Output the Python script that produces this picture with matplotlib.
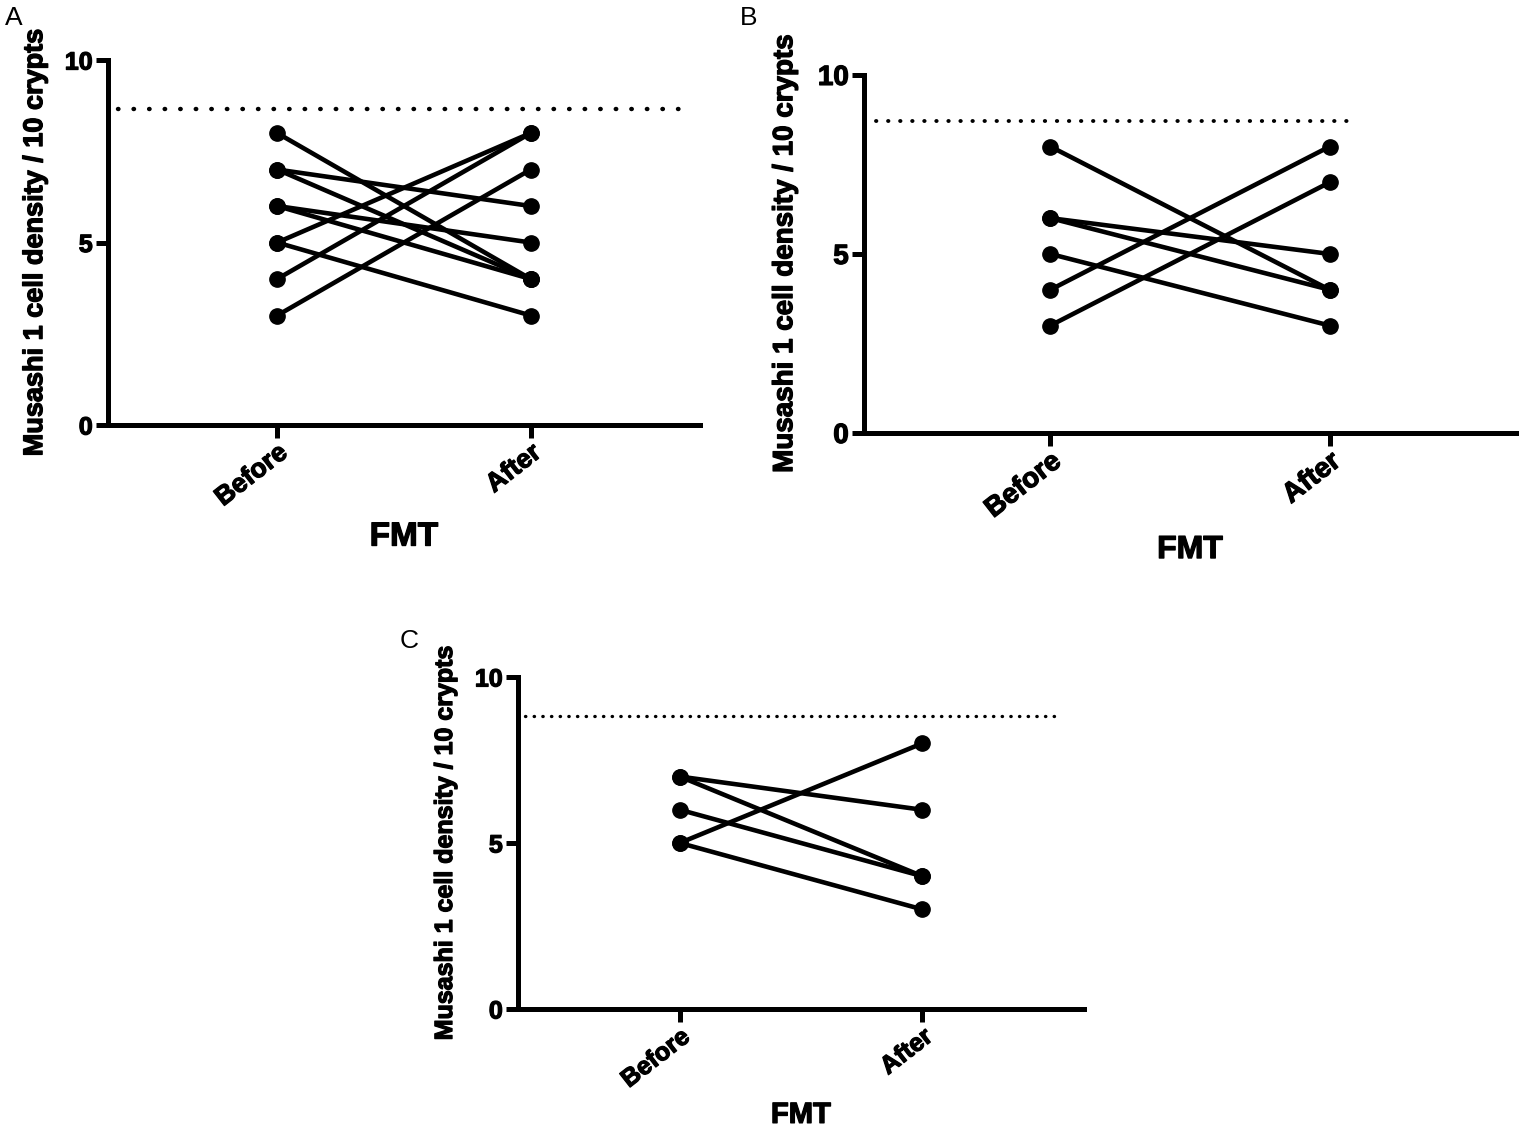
import matplotlib
matplotlib.use("Agg")
import matplotlib.pyplot as plt
import matplotlib.patheffects as pe

plt.rcParams['font.family'] = ['Liberation Sans', 'DejaVu Sans']

# paired values (before -> after), one line per subject
groups = ['Before', 'After']
a_before = [8, 7, 7, 6, 6, 5, 5, 4, 3]
a_after = [4, 6, 4, 5, 4, 8, 3, 8, 7]
b_before = [8, 6, 6, 5, 4, 3]
b_after = [4, 5, 4, 3, 8, 7]
c_before = [7, 7, 6, 5, 5]
c_after = [6, 4, 4, 8, 3]
ref_levels = [8.66, 8.72, 8.83]   # dotted reference line per panel
y_ticks = [0, 5, 10]

ylab = 'Musashi 1 cell density / 10 crypts'
heavy = [pe.withStroke(linewidth=0.9, foreground='black')]

fig = plt.figure(figsize=(15.25, 11.37), dpi=100)

# axes rects and per-panel styling
panels = [
    dict(rect=[0.0708, 0.6262, 0.3882, 0.3210], before=a_before, after=a_after,
         ref=ref_levels[0], ref_span=(0.017, 0.983), dots=(0.1, 3.4), dlw=3.2,
         letter='A', letter_xy=(0.003, 0.995), ytf=18, xtf=19, ylf=19.5, xlf=24,
         ylab_x=-0.123, xlab_y=-0.307),
    dict(rect=[0.5666, 0.6192, 0.4275, 0.3149], before=b_before, after=b_after,
         ref=ref_levels[1], ref_span=(0.018, 0.758), dots=(0.1, 3.0), dlw=2.8,
         letter='B', letter_xy=(0.485, 0.995), ytf=20, xtf=20, ylf=20, xlf=23,
         ylab_x=-0.121, xlab_y=-0.327),
    dict(rect=[0.3397, 0.1126, 0.3711, 0.2920], before=c_before, after=c_after,
         ref=ref_levels[2], ref_span=(0.012, 0.958), dots=(0.1, 2.5), dlw=2.4,
         letter='C', letter_xy=(0.262, 0.447), ytf=18, xtf=18, ylf=18, xlf=21,
         ylab_x=-0.129, xlab_y=-0.319),
]

for p in panels:
    ax = fig.add_axes(p['rect'])
    for b, a in zip(p['before'], p['after']):
        ax.plot([0, 1], [b, a], color='black', lw=3.3, marker='o', ms=11,
                solid_capstyle='round', clip_on=False)
    ax.axhline(p['ref'], xmin=p['ref_span'][0], xmax=p['ref_span'][1],
               color='black', lw=p['dlw'], linestyle=(0, p['dots']),
               dash_capstyle='round')
    ax.set_xlim(-0.667, 1.667)
    ax.set_ylim(0, 10)
    ax.set_yticks(y_ticks)
    ax.set_xticks([0, 1])
    ax.set_xticklabels(groups, rotation=38, ha='right', va='top',
                       rotation_mode='anchor', fontweight='bold', fontsize=p['xtf'])
    for t in ax.get_yticklabels():
        t.set_fontweight('bold')
        t.set_fontsize(p['ytf'])
    for t in ax.get_xticklabels() + ax.get_yticklabels():
        t.set_path_effects(heavy)
    for s in ['top', 'right']:
        ax.spines[s].set_visible(False)
    for s in ['left', 'bottom']:
        ax.spines[s].set_linewidth(3.6)
    ax.tick_params(axis='both', width=3.6, length=9, direction='out', pad=2)
    ax.set_ylabel(ylab, fontweight='bold', fontsize=p['ylf'], va='center',
                  path_effects=heavy)
    ax.yaxis.set_label_coords(p['ylab_x'], 0.5)
    ax.set_xlabel('FMT', fontweight='bold', fontsize=p['xlf'], va='center',
                  path_effects=heavy)
    ax.xaxis.set_label_coords(0.5, p['xlab_y'])
    fig.text(p['letter_xy'][0], p['letter_xy'][1], p['letter'], fontsize=19,
             ha='left', va='top')

fig.savefig('out.png', dpi=100, facecolor='white')
